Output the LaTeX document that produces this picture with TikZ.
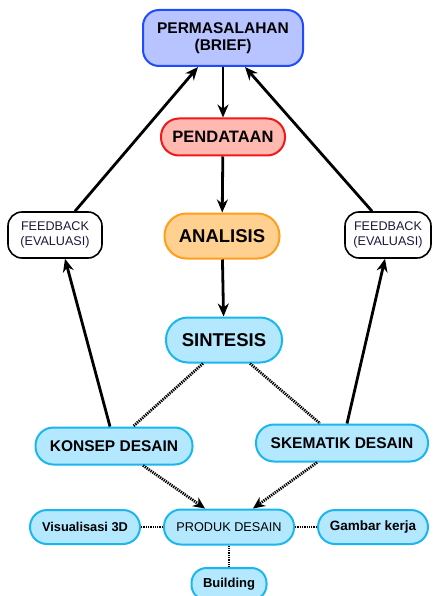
\documentclass[tikz,border=0pt]{standalone}
\usepackage{fontspec}
\setmainfont{Liberation Sans}
\usetikzlibrary{arrows.meta}

\definecolor{biruisi}{HTML}{B8C4FF}
\definecolor{birugaris}{HTML}{1F4BFF}
\definecolor{merahisi}{HTML}{FFB9B0}
\definecolor{merahgaris}{HTML}{F01818}
\definecolor{oranyeisi}{HTML}{FFD08F}
\definecolor{oranyegaris}{HTML}{FF9E1B}
\definecolor{tosca}{HTML}{B3E8FF}
\definecolor{toscagaris}{HTML}{1AB6EE}
\definecolor{tinta}{HTML}{1A1A3A}

\tikzset{
  kapsul/.style={draw,line width=2pt,rounded corners=#1,align=center,inner sep=0pt},
  kapsul/.default=17pt,
  panah/.style={line width=2.8pt,-{Stealth[length=13pt,width=11pt]}},
  titik/.style={line width=2.8pt,dash pattern=on 1.3pt off 1pt},
  titikpanah/.style={titik,-{Stealth[length=12pt,width=11pt,line width=0pt]}}
}

\begin{document}
\begin{tikzpicture}[x=1pt,y=-1pt]
				\useasboundingbox (0,0) rectangle (433,596);
				% alur utama
				\node[kapsul=16pt,fill=biruisi,draw=birugaris,minimum width=160pt,minimum height=56pt,font=\bfseries\fontsize{15.5}{17}\selectfont] (brief) at (223,38) {PERMASALAHAN\\(BRIEF)};
				\node[kapsul=18pt,fill=merahisi,draw=merahgaris,minimum width=124pt,minimum height=37pt,font=\bfseries\fontsize{16.5}{18}\selectfont] (data) at (223,137) {PENDATAAN};
				\node[kapsul=22pt,fill=oranyeisi,draw=oranyegaris,minimum width=115pt,minimum height=45pt,font=\bfseries\fontsize{18.5}{20}\selectfont] (analisis) at (222,236) {ANALISIS};
				\node[kapsul=22pt,fill=tosca,draw=toscagaris,minimum width=116pt,minimum height=45pt,font=\bfseries\fontsize{18.5}{20}\selectfont] (sintesis) at (224,340) {SINTESIS};
				% umpan balik
				\node[kapsul=14pt,fill=white,draw=black,line width=1.6pt,minimum width=94pt,minimum height=46pt,text=tinta,font=\fontsize{12.6}{15}\selectfont] (fbkiri) at (55,235) {FEEDBACK\\(EVALUASI)};
				\node[kapsul=14pt,fill=white,draw=black,line width=1.6pt,minimum width=86pt,minimum height=46pt,text=tinta,font=\fontsize{12.6}{15}\selectfont] (fbkanan) at (388,235) {FEEDBACK\\(EVALUASI)};
				% desain
				\node[kapsul=18pt,fill=tosca,draw=toscagaris,minimum width=157pt,minimum height=37pt,font=\bfseries\fontsize{15.5}{17}\selectfont] (konsep) at (114,446) {KONSEP DESAIN};
				\node[kapsul=18pt,fill=tosca,draw=toscagaris,minimum width=172pt,minimum height=37pt,font=\bfseries\fontsize{15.5}{17}\selectfont] (skematik) at (342,443) {SKEMATIK DESAIN};
				\node[kapsul=17pt,fill=tosca,draw=toscagaris,minimum width=130pt,minimum height=35pt,font=\fontsize{12.7}{14}\selectfont] (produk) at (229,527) {PRODUK DESAIN};
				\node[kapsul=17pt,fill=tosca,draw=toscagaris,minimum width=110pt,minimum height=34pt,font=\bfseries\fontsize{12.8}{14}\selectfont] (visual) at (85,527) {Visualisasi 3D};
				\node[kapsul=17pt,fill=tosca,draw=toscagaris,minimum width=110pt,minimum height=34pt,font=\bfseries\fontsize{13.5}{15}\selectfont] (gambar) at (373,527) {Gambar kerja};
				\node[kapsul=15pt,fill=tosca,draw=toscagaris,minimum width=75pt,minimum height=32pt,font=\bfseries\fontsize{13}{15}\selectfont] (building) at (229,584) {Building};
				% panah
				\draw[panah] (brief) -- (data);
				\draw[panah] (data) -- (analisis);
				\draw[panah] (analisis) -- (sintesis);
				\draw[panah] ([xshift=-4pt]konsep.north) -- ([xshift=10pt]fbkiri.south);
				\draw[panah] ([xshift=20pt]fbkiri.north) -- ([xshift=-25pt]brief.south);
				\draw[panah] ([xshift=5pt]skematik.north) -- ([xshift=-3pt]fbkanan.south);
				\draw[panah] ([xshift=-16pt]fbkanan.north) -- ([xshift=22pt]brief.south);
				% garis titik
				\draw[titik] ([xshift=-21pt]sintesis.south) -- ([xshift=19pt]konsep.north);
				\draw[titik] ([xshift=26pt]sintesis.south) -- ([xshift=-22pt]skematik.north);
				\draw[titikpanah] ([xshift=29pt]konsep.south) -- ([xshift=-24pt]produk.north);
				\draw[titikpanah] ([xshift=-25pt]skematik.south) -- ([xshift=24pt]produk.north);
				\draw[titik] (produk.west) -- (visual.east);
				\draw[titik] (produk.east) -- (gambar.west);
				\draw[titik] (produk.south) -- (building.north);
			\end{tikzpicture}
\end{document}
